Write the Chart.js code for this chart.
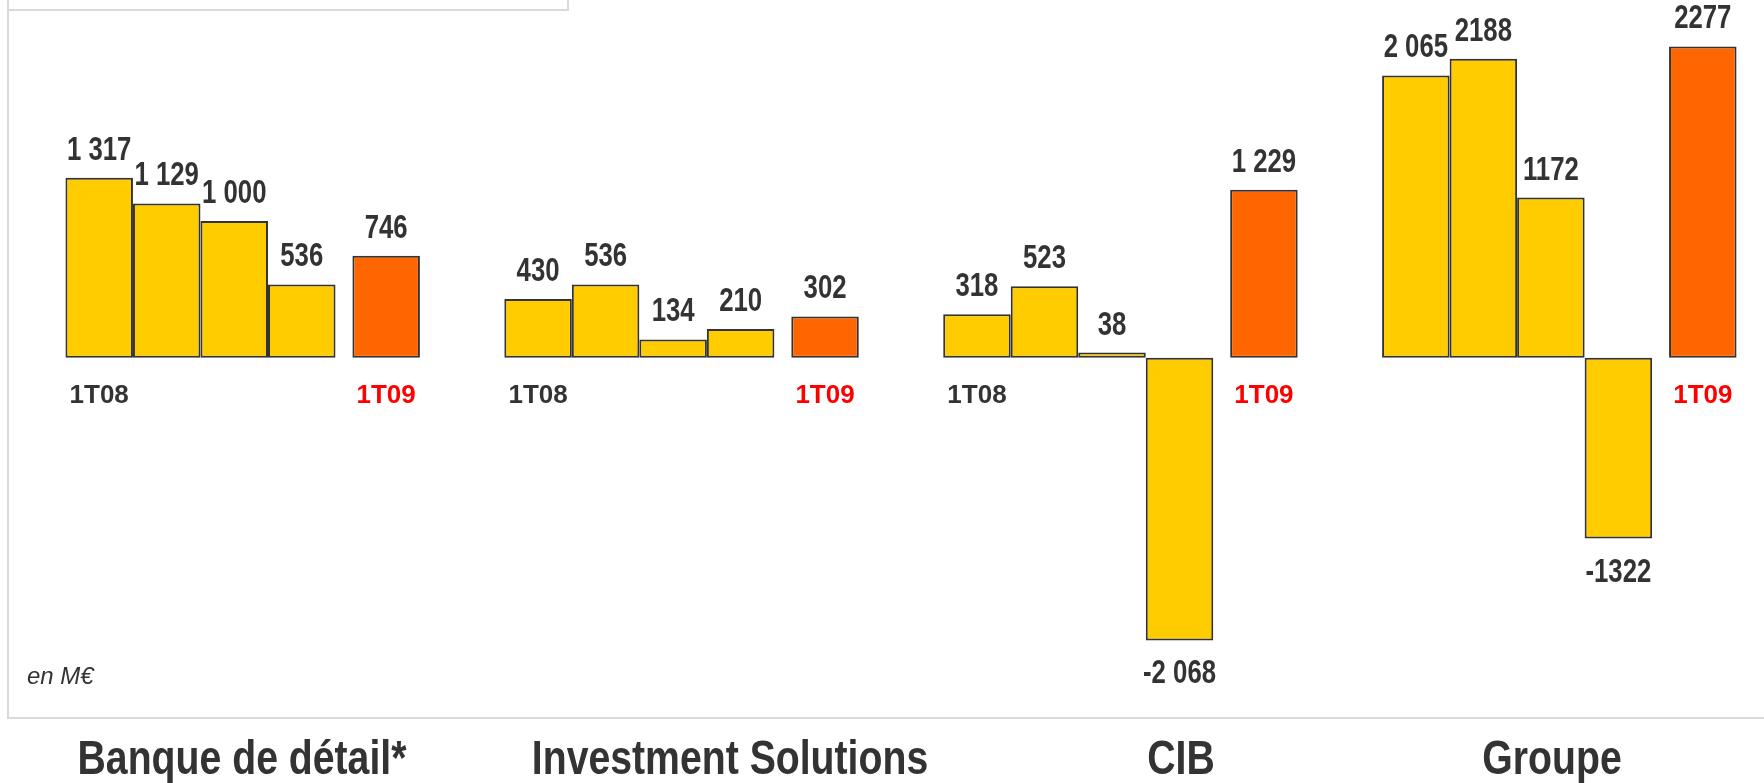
<!DOCTYPE html>
<html>
<head>
<meta charset="utf-8">
<title>Résultat net par pôle</title>
<script src="https://cdn.jsdelivr.net/npm/chart.js@4.4.1/dist/chart.umd.min.js"></script>
<style>
  html, body { margin: 0; padding: 0; background: #fff; }
  #wrap { position: relative; width: 1764px; height: 783px; overflow: hidden; }
</style>
</head>
<body>
<div id="wrap"><canvas id="chart" width="1764" height="783"></canvas></div>
<script>
// Pôles et trimestres
const poles = ['Banque de détail*', 'Investment Solutions', 'CIB', 'Groupe'];
const labels08 = ['1T08', '1T08', '1T08', ''];   // pas de libellé 1T08 sous Groupe
const labels09 = ['1T09', '1T09', '1T09', '1T09'];

// Résultats 2008 (1T08 à 4T08), en M€
const banque2008 = [1317, 1129, 1000, 536];
const investment2008 = [430, 536, 134, 210];
const cib2008 = [318, 523, 38, -2068];
const groupe2008 = [2065, 2188, 1172, -1322];

// 1T09 par pôle
const t109 = [746, 302, 1229, 2277];

// Libellés des valeurs tels qu'affichés (4 trimestres 2008 puis 1T09)
const banqueLabels = ['1 317', '1 129', '1 000', '536', '746'];
const investmentLabels = ['430', '536', '134', '210', '302'];
const cibLabels = ['318', '523', '38', '-2 068', '1 229'];
const groupeLabels = ['2 065', '2188', '1172', '-1322', '2277'];

const YELLOW = '#FFCC00';
const ORANGE = '#FF6600';
const TEXT = '#333333';
const RED = '#FF0000';

// Disposition sur l'axe : un emplacement = 1/4 de barre
const SLOTS_PER_GROUP = 26;
const FIRST_SLOT = 2;
const BAR = 4;
const T09_OFFSET = 17;
const TOTAL_SLOTS = 100;

const series2008 = [banque2008, investment2008, cib2008, groupe2008];
const valueLabels = [banqueLabels, investmentLabels, cibLabels, groupeLabels];

const labels = [], values = [], colors = [], texts = [];
for (let i = 0; i < TOTAL_SLOTS; i++) {
    labels.push('');
    values.push(null);
    colors.push(YELLOW);
    texts.push('');
}
poles.forEach((pole, g) => {
    const base = FIRST_SLOT + g * SLOTS_PER_GROUP;
    series2008[g].forEach((v, q) => {
        values[base + q * BAR] = v;
        texts[base + q * BAR] = valueLabels[g][q];
    });
    labels[base] = labels08[g];
    labels[base + T09_OFFSET] = labels09[g];
    values[base + T09_OFFSET] = t109[g];
    colors[base + T09_OFFSET] = ORANGE;
    texts[base + T09_OFFSET] = valueLabels[g][4];
});

// position horizontale des titres de pôle (px)
const titleCenters = [242, 730, 1181, 1552];

// Texte condensé (style Arial Narrow)
function drawNarrow(ctx, text, x, y, font, color, squeeze) {
    ctx.save();
    ctx.font = font;
    ctx.fillStyle = color;
    ctx.textAlign = 'center';
    ctx.textBaseline = 'alphabetic';
    ctx.translate(x, y);
    ctx.scale(squeeze, 1);
    ctx.fillText(text, 0, 0);
    ctx.restore();
}

const framePlugin = {
    id: 'frame',
    beforeDraw(chart) {
        const ctx = chart.ctx;
        ctx.save();
        ctx.fillStyle = '#ffffff';
        ctx.fillRect(0, 0, chart.width, chart.height);
        ctx.strokeStyle = '#d9d9d9';
        ctx.lineWidth = 2;
        ctx.beginPath();
        ctx.moveTo(8, 0);
        ctx.lineTo(8, 718);
        ctx.lineTo(chart.width, 718);
        ctx.moveTo(8, 10);
        ctx.lineTo(568, 10);
        ctx.lineTo(568, 0);
        ctx.stroke();
        ctx.restore();
    },
    afterDraw(chart) {
        const ctx = chart.ctx;
        poles.forEach((p, g) => {
            drawNarrow(ctx, p, titleCenters[g], 774, 'bold 49px "Liberation Sans"', TEXT, 0.8);
        });
        ctx.save();
        ctx.font = 'italic 24px "Liberation Sans"';
        ctx.fillStyle = TEXT;
        ctx.textBaseline = 'alphabetic';
        ctx.fillText('en M€', 27, 684);
        ctx.restore();
    }
};

const valueLabelPlugin = {
    id: 'valueLabels',
    afterDatasetsDraw(chart) {
        const ctx = chart.ctx;
        const meta = chart.getDatasetMeta(0);
        meta.data.forEach((bar, i) => {
            if (values[i] === null) return;
            const y = values[i] >= 0 ? bar.y - 18 : bar.y + 43;
            drawNarrow(ctx, texts[i], bar.x, y, 'bold 33px "Liberation Sans"', TEXT, 0.78);
        });
    }
};

const ctx = document.getElementById('chart').getContext('2d');
new Chart(ctx, {
    type: 'bar',
    data: {
        labels: labels,
        datasets: [{
            data: values,
            backgroundColor: colors,
            borderColor: TEXT,
            borderWidth: 2,
            borderSkipped: false,
            barPercentage: BAR,
            categoryPercentage: 1,
            clip: false
        }]
    },
    options: {
        responsive: false,
        animation: false,
        layout: { padding: { left: 57, right: 19, top: 0, bottom: 65 } },
        plugins: {
            legend: { display: false },
            tooltip: { enabled: false }
        },
        scales: {
            x: {
                position: { y: 0 },
                grid: { display: false, drawTicks: false },
                border: { display: false },
                ticks: {
                    autoSkip: false,
                    maxRotation: 0,
                    padding: 22,
                    font: { family: 'Liberation Sans', weight: 'bold', size: 26 },
                    color: c => labels[c.index] === '1T09' ? RED : TEXT
                }
            },
            y: {
                display: false,
                min: -2635,
                max: 2617
            }
        }
    },
    plugins: [framePlugin, valueLabelPlugin]
});
</script>
</body>
</html>
